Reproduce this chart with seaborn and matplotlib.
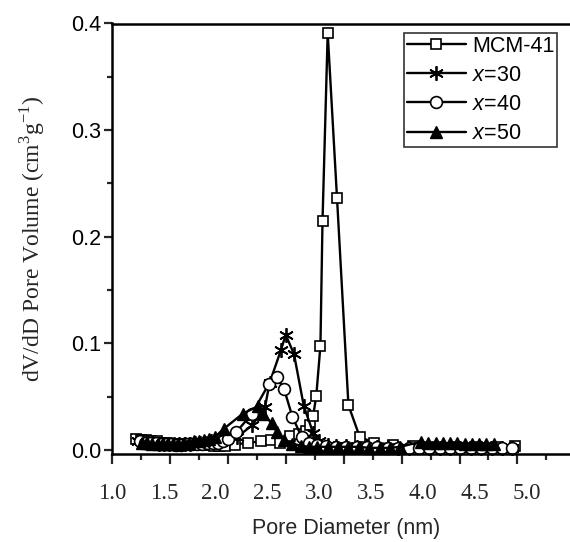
import numpy as np
import pandas as pd
import matplotlib
matplotlib.use("Agg")
import matplotlib.pyplot as plt
import seaborn as sns

sns.set_theme(style="white")
plt.rcParams['font.family'] = ['Liberation Sans', 'DejaVu Sans']
plt.rcParams['mathtext.fontset'] = 'custom'
plt.rcParams['mathtext.it'] = 'Liberation Sans:italic'
plt.rcParams['mathtext.rm'] = 'Liberation Serif'

# ---------------- data ----------------
mcm_x = [1.23, 1.28, 1.33, 1.38, 1.43, 1.48, 1.53, 1.58, 1.63, 1.68, 1.73, 1.78, 1.83,
         1.88, 1.93, 1.98, 2.03, 2.09, 2.19, 2.31, 2.44, 2.53, 2.62, 2.72, 2.80, 2.87,
         2.91, 2.94, 2.97, 3.01, 3.03, 3.08, 3.17, 3.28, 3.39, 3.53, 3.71, 3.90, 4.10,
         4.30, 4.50, 4.70, 4.89]
mcm_y = [0.010, 0.009, 0.009, 0.008, 0.008, 0.007, 0.007, 0.006, 0.006, 0.006, 0.005,
         0.005, 0.005, 0.005, 0.005, 0.004, 0.004, 0.004, 0.005, 0.007, 0.008, 0.009,
         0.007, 0.013, 0.015, 0.018, 0.023, 0.032, 0.051, 0.098, 0.215, 0.391, 0.236,
         0.042, 0.012, 0.007, 0.005, 0.004, 0.003, 0.003, 0.003, 0.003, 0.004]

x30_x = [1.25, 1.30, 1.35, 1.40, 1.45, 1.50, 1.55, 1.60, 1.65, 1.70, 1.75, 1.80, 1.85,
         1.90, 1.95, 2.00, 2.05, 2.10, 2.21, 2.35, 2.475, 2.52, 2.63, 2.675, 2.755,
         2.85, 2.94, 3.00, 3.08, 3.16, 3.26, 3.36, 3.46, 3.56, 3.66, 3.76, 3.86, 3.96,
         4.06, 4.16, 4.26, 4.36, 4.46, 4.56, 4.66, 4.76, 4.86]
x30_y = [0.008, 0.008, 0.007, 0.007, 0.006, 0.006, 0.006, 0.006, 0.006, 0.006, 0.006,
         0.007, 0.007, 0.007, 0.008, 0.008, 0.009, 0.010, 0.0125, 0.023, 0.040, 0.063,
         0.094, 0.108, 0.090, 0.041, 0.016, 0.008, 0.005, 0.004, 0.004, 0.003, 0.003,
         0.003, 0.003, 0.002, 0.002, 0.003, 0.002, 0.002, 0.002, 0.002, 0.002, 0.002,
         0.002, 0.002, 0.002]

x40_x = [1.27, 1.32, 1.37, 1.42, 1.47, 1.52, 1.57, 1.62, 1.67, 1.72, 1.77, 1.82, 1.87,
         1.92, 1.97, 2.02, 2.07, 2.12, 2.20, 2.35, 2.51, 2.59, 2.66, 2.74, 2.83, 2.90,
         2.98, 3.06, 3.16, 3.26, 3.36, 3.46, 3.56, 3.66, 3.76, 3.86, 3.96, 4.06, 4.16,
         4.26, 4.36, 4.46, 4.56, 4.66, 4.76, 4.86]
x40_y = [0.008, 0.007, 0.007, 0.007, 0.006, 0.006, 0.006, 0.005, 0.005, 0.006, 0.006,
         0.006, 0.006, 0.007, 0.007, 0.007, 0.008, 0.010, 0.017, 0.034, 0.0615, 0.068,
         0.057, 0.031, 0.012, 0.007, 0.005, 0.004, 0.003, 0.003, 0.003, 0.003, 0.003,
         0.002, 0.002, 0.002, 0.002, 0.002, 0.002, 0.002, 0.002, 0.002, 0.002, 0.002,
         0.002, 0.002]

x50_x = [1.29, 1.34, 1.39, 1.44, 1.49, 1.54, 1.59, 1.64, 1.69, 1.74, 1.79, 1.84, 1.89,
         1.94, 1.99, 2.08, 2.26, 2.405, 2.46, 2.54, 2.59, 2.66, 2.74, 2.82, 2.90, 2.98,
         3.08, 3.18, 3.28, 3.38, 3.48, 3.58, 3.68, 3.78, 3.98, 4.05, 4.12, 4.19, 4.26,
         4.33, 4.40, 4.47, 4.54, 4.61, 4.68]
x50_y = [0.007, 0.007, 0.006, 0.006, 0.006, 0.006, 0.006, 0.006, 0.007, 0.007, 0.008,
         0.008, 0.009, 0.010, 0.012, 0.020, 0.034, 0.041, 0.034, 0.025, 0.017, 0.009,
         0.006, 0.004, 0.003, 0.003, 0.003, 0.003, 0.003, 0.003, 0.002, 0.002, 0.002,
         0.003, 0.0078, 0.0065, 0.0065, 0.0065, 0.0065, 0.0065, 0.006, 0.006, 0.006,
         0.006, 0.006]

labels = ["MCM-41", "$\\it{x}$=30", "$\\it{x}$=40", "$\\it{x}$=50"]
xtick_labels = ["1.0", "1.5", "2.0", "2.5", "3.0", "3.5", "4.0", "4.5", "5.0"]
ytick_labels = ["0.0", "0.1", "0.2", "0.3", "0.4"]

# ---------------- figure ----------------
W, H = 570, 542
fig = plt.figure(figsize=(W / 100, H / 100), dpi=100)
ax = fig.add_axes([112 / W, (H - 454) / H, (580 - 112) / W, (454 - 23.5) / H])

series = [
    (mcm_x, mcm_y, dict(marker='s', markersize=7.5, markerfacecolor='white',
                        markeredgecolor='black', markeredgewidth=1.2)),
    (x30_x, x30_y, dict(marker=(6, 2, 0), markersize=10.5, markeredgecolor='black',
                        markeredgewidth=1.3)),
    (x40_x, x40_y, dict(marker='o', markersize=8.5, markerfacecolor='white',
                        markeredgecolor='black', markeredgewidth=1.2)),
    (x50_x, x50_y, dict(marker='^', markersize=8, markerfacecolor='black',
                        markeredgecolor='black', markeredgewidth=1.0)),
]
for (xs, ys, mk), lab in zip(series, labels):
    df = pd.DataFrame({"x": xs, "y": ys})
    sns.lineplot(data=df, x="x", y="y", ax=ax, color='black', linewidth=1.7,
                 sort=False, label=lab, clip_on=False, **mk)

ax.set_xlim(1.0, 1.0 + (580 - 112) / 103.7)
ax.set_ylim(-0.00375, 0.3995)

# ticks: drawn tick marks (long/short) on main axis
tick_step = 28.96 / 103.7
ax.set_xticks([1.0 + 2 * k * tick_step for k in range(8)])
ax.set_xticks([1.0 + (2 * k + 1) * tick_step for k in range(8)], minor=True)
ax.tick_params(axis='x', which='major', length=7, width=1.6, direction='out',
               labelbottom=False, bottom=True)
ax.tick_params(axis='x', which='minor', length=4.5, width=1.6, direction='out', bottom=True)

ax.set_yticks([0.0, 0.1, 0.2, 0.3, 0.4])
ax.set_yticklabels(ytick_labels)
ax.set_yticks([0.05, 0.15, 0.25, 0.35], minor=True)
ax.tick_params(axis='y', which='major', length=6, width=1.6, direction='out', left=True,
               labelsize=15.5, pad=2, labelcolor='black')
ax.tick_params(axis='y', which='minor', length=3.5, width=1.6, direction='out', left=True)

# tick labels (Times-like) from a secondary axis
sec = ax.secondary_xaxis('bottom')
sec.set_xticks([float(t) for t in xtick_labels])
sec.set_xticklabels(xtick_labels, fontfamily='Liberation Serif', fontsize=16.5)
sec.tick_params(length=0, pad=21)
sec.spines['bottom'].set_visible(False)

for side in ['left', 'bottom', 'top', 'right']:
    ax.spines[side].set_color('black')
    ax.spines[side].set_linewidth(1.8)

ax.set_xlabel("")
sec.set_xlabel("Pore Diameter (nm)", fontfamily='Liberation Sans', fontsize=15.5,
               labelpad=10)
ax.set_ylabel("dV/dD Pore Volume (cm$^{3}$g$^{-1}$)", fontfamily='Liberation Serif',
              fontsize=17, labelpad=17)

leg = ax.legend(loc='upper left', bbox_to_anchor=(404 / W, 1 - 33 / H),
                bbox_transform=fig.transFigure, frameon=True, fancybox=False,
                edgecolor='black', fontsize=15.5, handlelength=2.75, handletextpad=0.3,
                labelspacing=0.38, borderpad=0.12, borderaxespad=0)
leg.get_frame().set_linewidth(1.2)
for t in leg.get_texts():
    t.set_color('black')

fig.savefig("out.png", dpi=100)
